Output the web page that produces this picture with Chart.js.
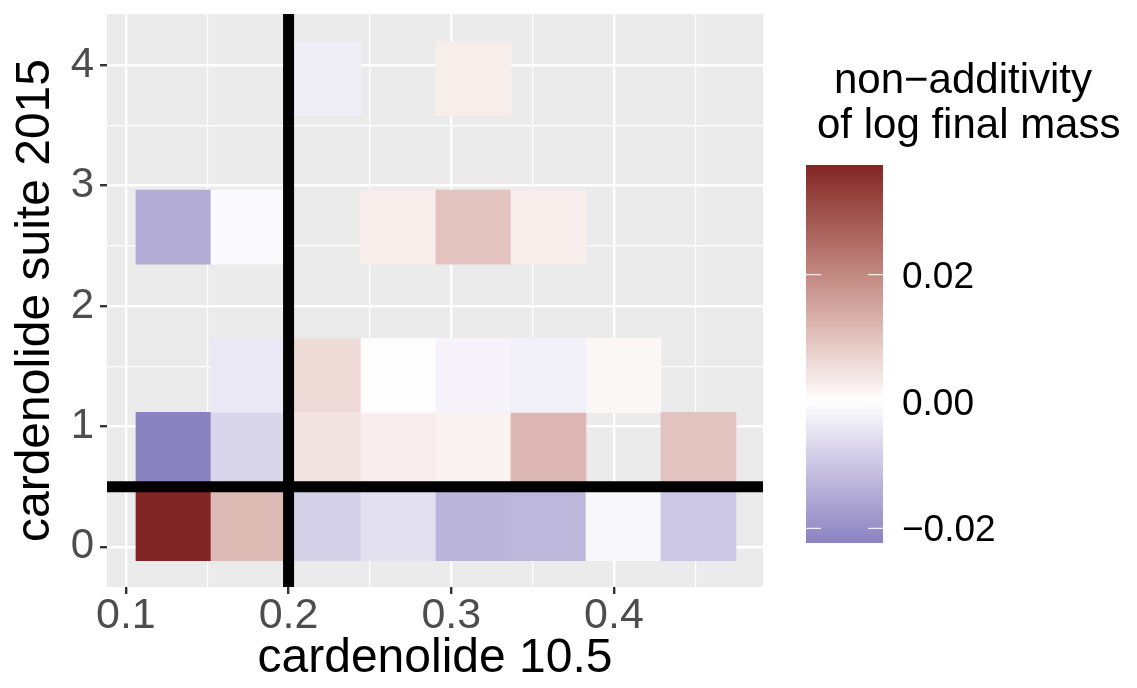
<!DOCTYPE html>
<html>
<head>
<meta charset="utf-8">
<script src="https://cdn.jsdelivr.net/npm/chart.js@4.4.1/dist/chart.umd.min.js"></script>
<style>
html, body { margin: 0; padding: 0; background: #fff; }
canvas { display: block; }
</style>
</head>
<body>
<canvas id="chart" width="1137" height="688"></canvas>
<script>
// Datos: centros de los bins y valor de no-aditividad por fila (null = sin dato)
const xCenters = [0.12925, 0.17535, 0.22145, 0.26755, 0.31365, 0.35975, 0.40585, 0.45195];
const yCenters = [0.1937, 0.8091, 1.4246, 2.6554, 3.8862];
const binWidth = 0.0461;
const binHeight = 0.6154;

const row0 = [0.0373, 0.0115, -0.0080, -0.0053, -0.0129, -0.0127, -0.0014, -0.0098];
const row1 = [-0.0223, -0.0073, 0.0045, 0.0027, 0.0020, 0.0121, null, 0.0099];
const row2 = [null, -0.0040, 0.0060, -0.0003, -0.0018, -0.0025, 0.0013, null];
const row3 = [-0.0147, -0.0010, null, 0.0030, 0.0100, 0.0030, null, null];
const row4 = [null, null, -0.0030, null, 0.0030, null, null, null];
const rows = [row0, row1, row2, row3, row4];

// Líneas de referencia
const vLineX = 0.2;
const hLineY = 0.5;

// Ejes
const xLimits = [0.0884, 0.4916];
const yLimits = [-0.333, 4.425];
const xTickValues = [0.1, 0.2, 0.3, 0.4];
const xTickLabels = ['0.1', '0.2', '0.3', '0.4'];
const xMinorBreaks = [0.15, 0.25, 0.35, 0.45];
const yTickValues = [0, 1, 2, 3, 4];
const yTickLabels = ['0', '1', '2', '3', '4'];
const yMinorBreaks = [0.5, 1.5, 2.5, 3.5];

// Leyenda
const legendTitle = ['non\u2212additivity', 'of log final mass'];
const legendTicks = [0.02, 0, -0.02];
const legendTickLabels = ['0.02', '0.00', '\u22120.02'];

const FONT = '"Liberation Sans", Arial, Helvetica, sans-serif';

// --- escala de color (gradient2 en Lab) ---
function hexToRgb(h) {
    const n = parseInt(h.slice(1), 16);
    return [(n >> 16) & 255, (n >> 8) & 255, n & 255];
}
function toLin(c) { c /= 255; return c <= 0.04045 ? c / 12.92 : Math.pow((c + 0.055) / 1.055, 2.4); }
function fromLin(c) {
    const v = c <= 0.0031308 ? 12.92 * c : 1.055 * Math.pow(c, 1 / 2.4) - 0.055;
    return Math.round(Math.max(0, Math.min(1, v)) * 255);
}
const Xn = 0.95047, Zn = 1.08883;
function f(t) { return t > 0.008856 ? Math.cbrt(t) : 7.787 * t + 16 / 116; }
function fi(t) { return t > 0.206893 ? t * t * t : (t - 16 / 116) / 7.787; }
function toLab(hex) {
    const [r, g, b] = hexToRgb(hex).map(toLin);
    const X = (0.4124 * r + 0.3576 * g + 0.1805 * b) / Xn;
    const Y = 0.2126 * r + 0.7152 * g + 0.0722 * b;
    const Z = (0.0193 * r + 0.1192 * g + 0.9505 * b) / Zn;
    const fx = f(X), fy = f(Y), fz = f(Z);
    return [116 * fy - 16, 500 * (fx - fy), 200 * (fy - fz)];
}
function fromLab(L, a, b) {
    const fy = (L + 16) / 116, fx = fy + a / 500, fz = fy - b / 200;
    const X = fi(fx) * Xn, Y = fi(fy), Z = fi(fz) * Zn;
    const r = 3.2406 * X - 1.5372 * Y - 0.4986 * Z;
    const g = -0.9689 * X + 1.8758 * Y + 0.0415 * Z;
    const bl = 0.0557 * X - 0.2040 * Y + 1.0570 * Z;
    return 'rgb(' + fromLin(r) + ',' + fromLin(g) + ',' + fromLin(bl) + ')';
}

const allValues = rows.flat().filter(v => v !== null);
const vMin = Math.min(...allValues);
const vMax = Math.max(...allValues);
const labWhite = toLab('#ffffff');
const labHigh = toLab('#822525');
const labLow = toLab('#8b83c1');

function colour(v) {
    const t = v >= 0 ? v / vMax : v / vMin;
    const end = v >= 0 ? labHigh : labLow;
    return fromLab(
        labWhite[0] + (end[0] - labWhite[0]) * t,
        labWhite[1] + (end[1] - labWhite[1]) * t,
        labWhite[2] + (end[2] - labWhite[2]) * t
    );
}

// --- celdas como barras flotantes ---
const cells = [];
const cellColours = [];
rows.forEach((row, r) => {
    row.forEach((v, c) => {
        if (v === null) return;
        cells.push({ x: xCenters[c], y: [yCenters[r] - binHeight / 2, yCenters[r] + binHeight / 2] });
        cellColours.push(colour(v));
    });
});

// --- plugins ---
const panelBackground = {
    id: 'panelBackground',
    beforeDraw(chart) {
        const { ctx, chartArea: a } = chart;
        ctx.save();
        ctx.fillStyle = '#ebebeb';
        ctx.fillRect(a.left, a.top, a.right - a.left, a.bottom - a.top);
        ctx.restore();
    }
};

const colourBar = {
    id: 'colourBar',
    afterDraw(chart) {
        const ctx = chart.ctx;
        ctx.save();
        ctx.fillStyle = '#000';
        ctx.textAlign = 'left';
        ctx.textBaseline = 'alphabetic';
        ctx.font = '42px ' + FONT;
        ctx.fillText(legendTitle[0], 834, 93);
        ctx.fillText(legendTitle[1], 817, 138);

        const bx = 806, bw = 77, top = 165, bot = 543;
        const grad = ctx.createLinearGradient(0, bot, 0, top);
        const n = 60;
        for (let i = 0; i <= n; i++) {
            grad.addColorStop(i / n, colour(vMin + (vMax - vMin) * i / n));
        }
        ctx.fillStyle = grad;
        ctx.fillRect(bx, top, bw, bot - top);

        const yOf = v => bot - (v - vMin) / (vMax - vMin) * (bot - top);
        ctx.strokeStyle = 'rgba(255,255,255,0.85)';
        ctx.lineWidth = 1.2;
        ctx.font = '37px ' + FONT;
        legendTicks.forEach((v, i) => {
            const y = yOf(v);
            ctx.beginPath();
            ctx.moveTo(bx, y); ctx.lineTo(bx + 15, y);
            ctx.moveTo(bx + bw - 15, y); ctx.lineTo(bx + bw, y);
            ctx.stroke();
            ctx.fillStyle = '#000';
            ctx.fillText(legendTickLabels[i], 902, y + 13);
        });
        ctx.restore();
    }
};

function tickSetter(major, minor) {
    return scale => {
        scale.ticks = major.concat(minor).sort((a, b) => a - b).map(v => ({ value: v }));
    };
}
const isMajor = (list, v) => list.some(m => Math.abs(m - v) < 1e-9);

const ctx = document.getElementById('chart').getContext('2d');
const chart = new Chart(ctx, {
    type: 'bar',
    data: {
        datasets: [
            {
                type: 'line',
                data: [{ x: vLineX, y: yLimits[0] }, { x: vLineX, y: yLimits[1] }],
                borderColor: '#000',
                borderWidth: 11,
                pointRadius: 0,
                order: 0
            },
            {
                type: 'line',
                data: [{ x: xLimits[0], y: hLineY }, { x: xLimits[1], y: hLineY }],
                borderColor: '#000',
                borderWidth: 11,
                pointRadius: 0,
                order: 0
            },
            {
                type: 'bar',
                data: cells,
                backgroundColor: cellColours,
                borderWidth: 0,
                grouped: false,
                barPercentage: 1,
                categoryPercentage: 1,
                order: 1
            }
        ]
    },
    options: {
        responsive: false,
        animation: false,
        events: [],
        layout: { padding: { top: 14, right: 374, left: 0, bottom: 0 } },
        plugins: { legend: { display: false }, tooltip: { enabled: false } },
        scales: {
            x: {
                type: 'linear',
                min: xLimits[0],
                max: xLimits[1],
                offset: false,
                afterBuildTicks: tickSetter(xTickValues, xMinorBreaks),
                afterFit: s => { s.height = 101; s.paddingLeft = 0; s.paddingRight = 0; },
                border: { display: false },
                grid: {
                    offset: false,
                    color: '#ffffff',
                    lineWidth: c => isMajor(xTickValues, c.tick.value) ? 2.4 : 1.2,
                    tickColor: c => isMajor(xTickValues, c.tick.value) ? '#333333' : 'rgba(0,0,0,0)',
                    tickWidth: 2.4,
                    tickLength: 7
                },
                ticks: {
                    autoSkip: false,
                    maxRotation: 0,
                    padding: 1,
                    color: '#4d4d4d',
                    font: { family: FONT, size: 43, lineHeight: 1 },
                    callback: v => {
                        const i = xTickValues.findIndex(m => Math.abs(m - v) < 1e-9);
                        return i >= 0 ? xTickLabels[i] : '';
                    }
                },
                title: {
                    display: true,
                    text: 'cardenolide 10.5',
                    color: '#000',
                    font: { family: FONT, size: 48, lineHeight: 1 },
                    padding: { top: 0, bottom: 5 }
                }
            },
            y: {
                type: 'linear',
                min: yLimits[0],
                max: yLimits[1],
                afterBuildTicks: tickSetter(yTickValues, yMinorBreaks),
                afterFit: s => { s.width = 107; s.paddingTop = 0; s.paddingBottom = 0; },
                border: { display: false },
                grid: {
                    color: '#ffffff',
                    lineWidth: c => isMajor(yTickValues, c.tick.value) ? 2.4 : 1.2,
                    tickColor: c => isMajor(yTickValues, c.tick.value) ? '#333333' : 'rgba(0,0,0,0)',
                    tickWidth: 2.4,
                    tickLength: 7
                },
                ticks: {
                    autoSkip: false,
                    padding: 6,
                    color: '#4d4d4d',
                    font: { family: FONT, size: 42, lineHeight: 1 },
                    callback: v => {
                        const i = yTickValues.findIndex(m => Math.abs(m - v) < 1e-9);
                        return i >= 0 ? yTickLabels[i] : '';
                    }
                },
                title: {
                    display: true,
                    text: 'cardenolide suite 2015',
                    color: '#000',
                    font: { family: FONT, size: 48, lineHeight: 1 },
                    padding: { top: 12, bottom: 0 }
                }
            }
        }
    },
    plugins: [panelBackground, colourBar]
});
</script>
</body>
</html>
